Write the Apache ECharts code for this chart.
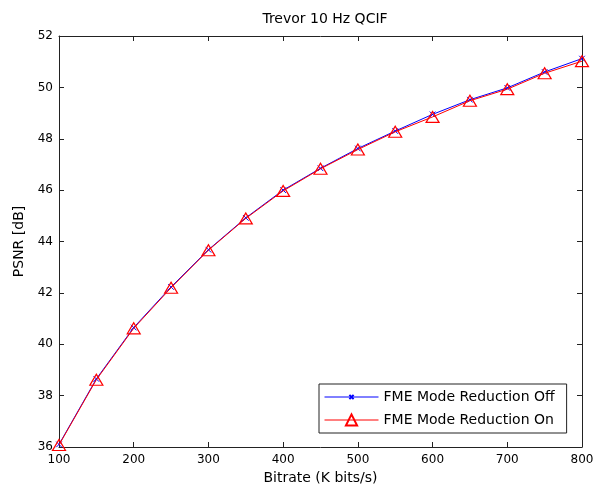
<!DOCTYPE html>
<html>
<head>
<meta charset="utf-8">
<script src="https://cdn.jsdelivr.net/npm/echarts@6/dist/echarts.min.js"></script>
<style>
  html, body { margin: 0; padding: 0; background: #fff; }
  #grafico { width: 597px; height: 495px; }
</style>
</head>
<body>
<div id="grafico"></div>
<script>
// data
const bitrate = [100, 150, 200, 250, 300, 350, 400, 450, 500, 550, 600, 650, 700, 750, 800]
const psnrOff = [36.1, 38.65, 40.65, 42.23, 43.68, 44.92, 46.0, 46.85, 47.62, 48.3, 48.95, 49.52, 49.98, 50.6, 51.12]
const psnrOn = [36.08, 38.62, 40.62, 42.2, 43.66, 44.9, 45.97, 46.83, 47.58, 48.27, 48.85, 49.48, 49.93, 50.55, 51.02]
const xTicks = [100, 800, 100]
const yTicks = [36, 52, 2]

const fuente = 'DejaVu Sans, sans-serif'
const negro = '#222'

const chart = echarts.init(document.getElementById('grafico'))

function ejeX(pos, conEtiqueta) {
  return {
    type: 'value',
    position: pos,
    min: xTicks[0],
    max: xTicks[1],
    interval: xTicks[2],
    splitLine: { show: false },
    axisLine: { show: true, onZero: false, lineStyle: { color: negro, width: 1 } },
    axisTick: { show: true, inside: true, length: 5, lineStyle: { color: negro } },
    axisLabel: { show: conEtiqueta, color: '#000', fontFamily: fuente, fontSize: 12, margin: 7 },
    name: conEtiqueta ? 'Bitrate (K bits/s)' : '',
    nameLocation: 'middle',
    nameGap: 24,
    nameTextStyle: { color: '#000', fontFamily: fuente, fontSize: 14 }
  }
}

function ejeY(pos, conEtiqueta) {
  return {
    type: 'value',
    position: pos,
    min: yTicks[0],
    max: yTicks[1],
    interval: yTicks[2],
    splitLine: { show: false },
    axisLine: { show: true, onZero: false, lineStyle: { color: negro, width: 1 } },
    axisTick: { show: true, inside: true, length: 5, lineStyle: { color: negro } },
    axisLabel: { show: conEtiqueta, color: '#000', fontFamily: fuente, fontSize: 12, margin: 6 },
    name: conEtiqueta ? 'PSNR [dB]' : '',
    nameLocation: 'middle',
    nameGap: 32,
    nameTextStyle: { color: '#000', fontFamily: fuente, fontSize: 14 }
  }
}

const option = {
  animation: false,
  backgroundColor: '#fff',
  title: {
    text: 'Trevor 10 Hz QCIF',
    left: 320,
    textAlign: 'center',
    top: 7,
    textStyle: { color: '#000', fontFamily: fuente, fontSize: 14, fontWeight: 'normal' }
  },
  grid: { left: 59, right: 15, top: 36, bottom: 48 },
  legend: {
    orient: 'vertical',
    left: 319,
    top: 384,
    backgroundColor: '#fff',
    borderColor: negro,
    borderWidth: 1,
    borderRadius: 0,
    padding: [6, 12, 6, 5],
    itemWidth: 54,
    itemHeight: 14,
    itemGap: 9,
    lineStyle: { width: 1 },
    textStyle: { color: '#000', fontFamily: fuente, fontSize: 14 },
    data: ['FME Mode Reduction Off', 'FME Mode Reduction On']
  },
  xAxis: [ejeX('bottom', true), ejeX('top', false)],
  yAxis: [ejeY('left', true), ejeY('right', false)],
  series: [
    {
      name: 'FME Mode Reduction Off',
      type: 'line',
      data: bitrate.map((b, i) => [b, psnrOff[i]]),
      symbol: 'path://M0,0L0,0M5,5L11,11M11,5L5,11M16,16L16,16',
      symbolSize: 15,
      lineStyle: { color: '#0000ff', width: 1 },
      itemStyle: { color: '#0000ff', borderColor: '#0000ff', borderWidth: 1 },
      z: 2
    },
    {
      name: 'FME Mode Reduction On',
      type: 'line',
      data: bitrate.map((b, i) => [b, psnrOn[i]]),
      symbol: 'triangle',
      symbolSize: [13, 11],
      lineStyle: { color: '#ff0000', width: 1 },
      itemStyle: { color: 'rgba(255,255,255,0)', borderColor: '#ff0000', borderWidth: 1.2 },
      z: 3
    }
  ]
}

chart.setOption(option)
</script>
</body>
</html>
